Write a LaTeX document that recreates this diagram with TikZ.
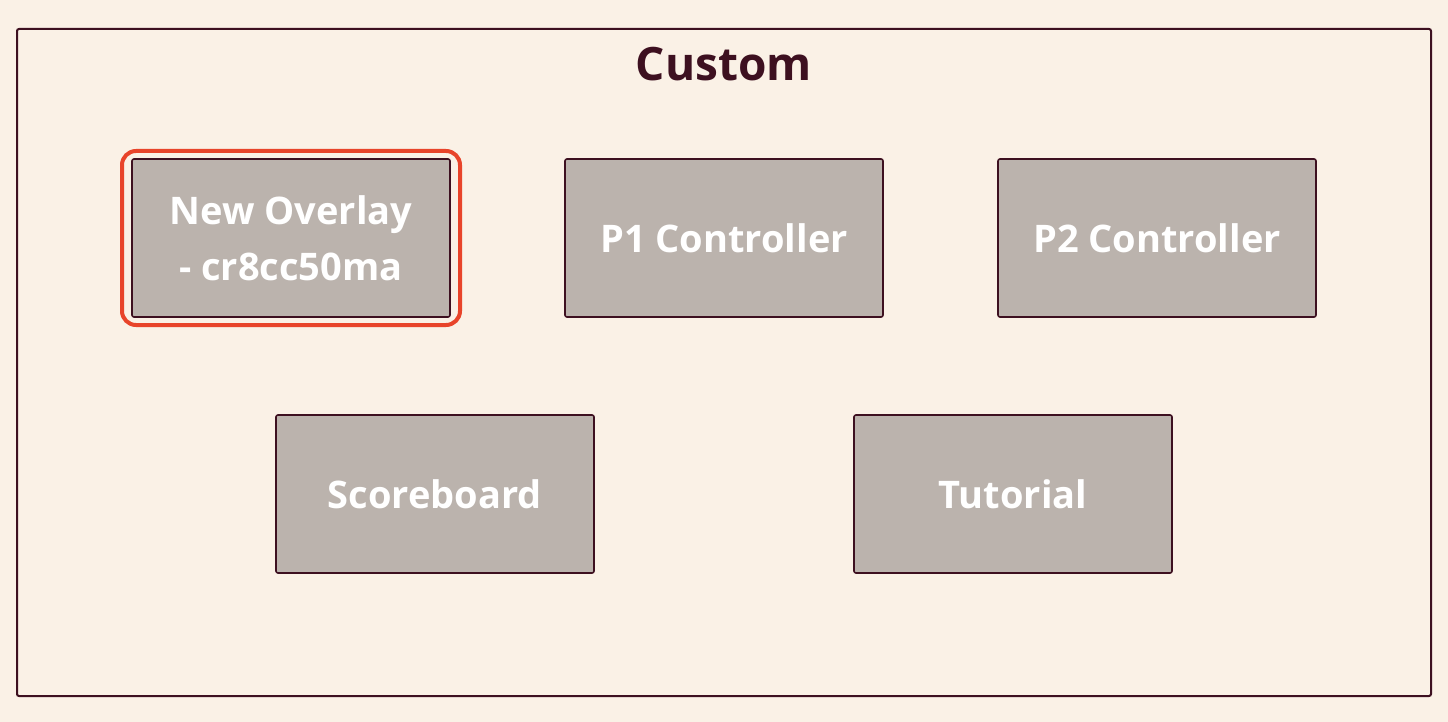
\documentclass[tikz,border=0pt]{standalone}
\usepackage{fontspec}
\setmainfont{Open Sans}
\definecolor{bg}{HTML}{FAF1E6}
\definecolor{maroon}{HTML}{3D1020}
\definecolor{boxfill}{HTML}{BBB3AD}
\definecolor{hl}{HTML}{E8442A}
\begin{document}
\begin{tikzpicture}[x=1pt,y=-1pt,
  card/.style={draw=maroon,line width=1.6pt,fill=boxfill,rounded corners=2pt,
    minimum width=318pt,minimum height=158pt,inner sep=0pt,
    text=white,font=\fontsize{38}{56}\selectfont\bfseries,align=center},
  hlbox/.style={draw=hl,line width=4pt,rounded corners=14pt,inner sep=0pt,
    minimum width=338pt,minimum height=174pt}]
\fill[bg] (0,0) rectangle (1448,722);
\useasboundingbox (0,0) rectangle (1448,722);
\draw[maroon,line width=2pt,rounded corners=2pt] (17,29) rectangle (1431,696);
\node[text=maroon,font=\fontsize{46}{52}\selectfont\bfseries] (title) at (724,64) {Custom};
\node[hlbox] (hl) at (291,238) {};
\node[card] (overlay) at (291,238) {New Overlay\\- cr8cc50ma};
\node[card] (p1) at (724,238) {P1 Controller};
\node[card] (p2) at (1157,238) {P2 Controller};
\node[card] (score) at (435,494) {Scoreboard};
\node[card] (tut) at (1013,494) {Tutorial};
\end{tikzpicture}
\end{document}
